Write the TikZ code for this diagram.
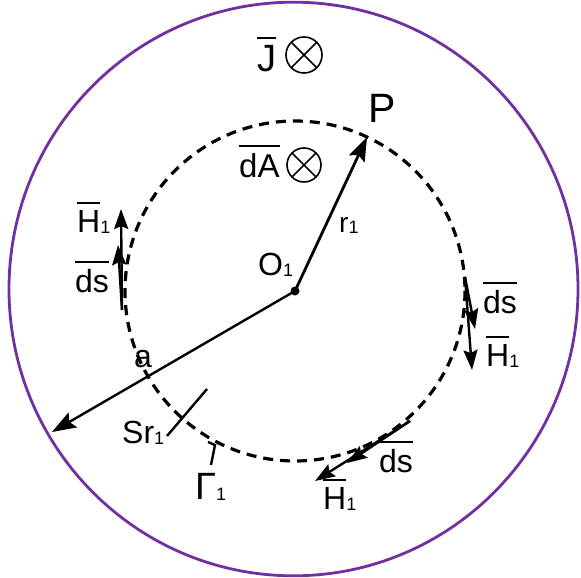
\documentclass[tikz,border=0pt]{standalone}
\usepackage{fontspec}
\setmainfont{Liberation Sans}
\usetikzlibrary{arrows.meta}
\definecolor{purp}{RGB}{112,48,160}
\newcommand{\ovl}[2][6pt]{\setbox0\hbox{#2}\vbox{\hrule height 2.2pt width \wd0 \vskip #1\box0}}
\newcommand{\sub}[1]{\raisebox{-1.5pt}{\fontsize{18}{18}\selectfont #1}}
\begin{document}
\begin{tikzpicture}[x=1pt,y=-1pt,
  lbl/.style={inner sep=0pt,anchor=base west,font=\fontsize{32}{34}\selectfont},
  arr/.style={line width=2.8pt,-{Stealth[length=24pt,width=17pt,inset=4pt]}},
  sarr/.style={line width=2.4pt,-{Stealth[length=20pt,width=14pt,inset=3pt]}},
  otimes/.style={circle,draw,line width=1.6pt,inner sep=0pt,minimum size=#1,
    path picture={\draw[line width=1.6pt] (path picture bounding box.north west)--(path picture bounding box.south east)
      (path picture bounding box.north east)--(path picture bounding box.south west);}}]
\useasboundingbox (0,0) rectangle (581,578);
% outer boundary
\draw[purp,line width=2.8pt] (293.5,289) ellipse [x radius=284.5, y radius=286.8];
% dashed contour
\coordinate (O) at (295,291);
\draw[line width=3.2pt,dash pattern=on 10pt off 7pt] (O) circle[radius=170];
% coordinates
\coordinate (P) at (367,137);
\coordinate (aend) at (52,432);
\coordinate (L0) at (122,310);
\coordinate (Lh) at (121,209);
\coordinate (Ld) at (118,245);
\coordinate (R0) at (465,277);
\coordinate (Rd) at (475,329);
\coordinate (Rh) at (472,370);
\coordinate (B0) at (410,421);
\coordinate (Bd) at (347,463);
\coordinate (Bh) at (315,481);
\coordinate (t1) at (207,389);
\coordinate (t2) at (167,436);
\coordinate (g1) at (208,442);
\coordinate (g2) at (215,445);
\coordinate (g3) at (211,465);
% radius and a
\draw[arr] (O) -- (P);
\draw[line width=2.4pt,-{Stealth[length=24pt,width=17pt,inset=4pt]}] (O) -- (aend);
\fill (O) circle[radius=4.5];
% tangent arrows
\draw[sarr] (L0) -- (Lh);
\draw[sarr] (L0) -- (Ld);
\draw[sarr] (R0) -- (Rh);
\draw[sarr] (R0) -- (Rd);
\draw[sarr] (B0) -- (Bh);
\draw[sarr] (B0) -- (Bd);
% tick and hook
\draw[line width=2.4pt] (t1) -- (t2);
\draw[line width=2.4pt] (g1) -- (g2) -- (g3);
% labels
\node[lbl,font=\fontsize{38}{40}\selectfont] (J) at (257,72) {\ovl[7pt]{J}};
\node[otimes=36pt] (Jx) at (304,55) {};
\node[lbl,font=\fontsize{41}{44}\selectfont] (Pl) at (368,122) {P};
\node[lbl,font=\fontsize{33}{35}\selectfont] (dA) at (239,177) {\ovl{dA}};
\node[otimes=34pt] (dAx) at (304,165) {};
\node[lbl,font=\fontsize{28}{30}\selectfont] (r1) at (339,232) {r\sub{1}};
\node[lbl] (O1) at (258,275) {O\sub{1}};
\node[lbl] (al) at (134,367) {a};
\node[lbl] (H1L) at (77,232) {\ovl{H}\sub{1}};
\node[lbl] (dsL) at (75,292) {\ovl{ds}};
\node[lbl] (dsR) at (483,313) {\ovl{ds}};
\node[lbl] (H1R) at (486,366) {\ovl{H}\sub{1}};
\node[lbl] (dsB) at (379,472) {\ovl{ds}};
\node[lbl] (H1B) at (323,509) {\ovl{H}\sub{1}};
\node[lbl] (Sr) at (122,443) {Sr\sub{1}};
\node[lbl,font=\fontsize{38}{40}\selectfont] (G1) at (195,499) {Γ\sub{1}};
\end{tikzpicture}
\end{document}
